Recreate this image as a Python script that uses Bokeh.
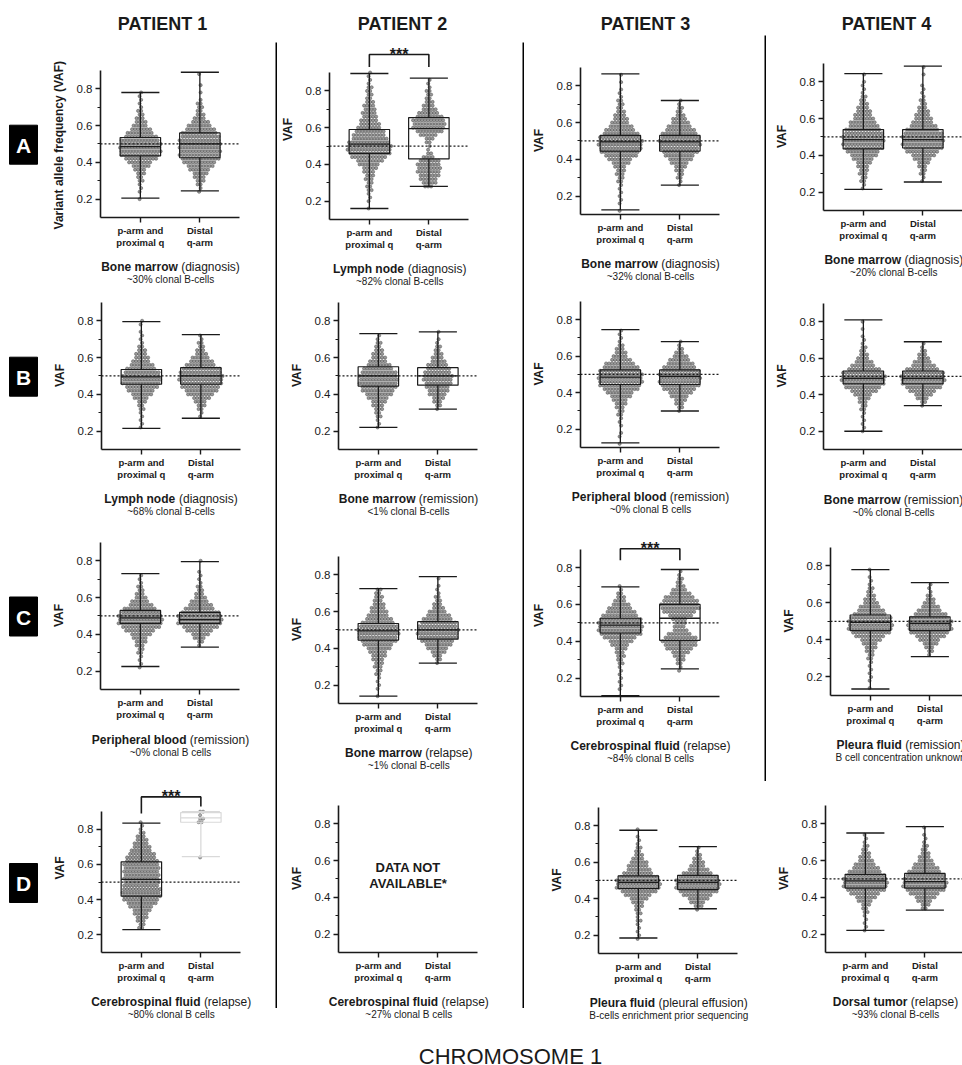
from bokeh.plotting import figure
from bokeh.layouts import row, column
from bokeh.models import Range1d, FixedTicker, Span, ColumnDataSource
from bokeh.core.properties import value
from bokeh.embed import file_html
from bokeh.resources import INLINE

# ------------------------------------------------------------------ data
CATEGORIES = ["p-arm and\nproximal q", "Distal\nq-arm"]
PATIENTS = ["PATIENT 1", "PATIENT 2", "PATIENT 3", "PATIENT 4"]
ROW_LETTERS = ["A", "B", "C", "D"]
Y_TICKS = [0.2, 0.4, 0.6, 0.8]
Y_MINOR = [0.3, 0.5, 0.7]
REFERENCE_VAF = 0.5
BIN_STEP = 0.02
FOOTER = "CHROMOSOME 1"
PANELS = ["A1", "A2", "A3", "A4", "B1", "B2", "B3", "B4",
          "C1", "C2", "C3", "C4", "D1", "D2", "D3", "D4"]
SITES = ["Bone marrow", "Lymph node", "Bone marrow", "Bone marrow",
         "Lymph node", "Bone marrow", "Peripheral blood", "Bone marrow",
         "Peripheral blood", "Bone marrow", "Cerebrospinal fluid", "Pleura fluid",
         "Cerebrospinal fluid", "Cerebrospinal fluid", "Pleura fluid", "Dorsal tumor"]
STATES = ["(diagnosis)", "(diagnosis)", "(diagnosis)", "(diagnosis)",
          "(diagnosis)", "(remission)", "(remission)", "(remission)",
          "(remission)", "(relapse)", "(relapse)", "(remission)",
          "(relapse)", "(relapse)", "(pleural effusion)", "(relapse)"]
NOTES = ["~30% clonal B-cells", "~82% clonal B-cells", "~32% clonal B-cells", "~20% clonal B-cells",
         "~68% clonal B-cells", "<1% clonal B-cells", "~0% clonal B cells", "~0% clonal B-cells",
         "~0% clonal B cells", "~1% clonal B-cells", "~84% clonal B cells", "B cell concentration unknown",
         "~80% clonal B cells", "~27% clonal B cells", "B-cells enrichment prior sequencing", "~93% clonal B-cells"]
SIG_PANELS = ["A2", "C3", "D1"]
SIG_TEXT = ["***", "***", "***"]
SIG_LEVEL = [0.998, 0.903, 0.984]
SIG_LEG_LEFT = [0.93, 0.84, 0.89]
SIG_LEG_RIGHT = [0.93, 0.84, 0.93]
MISSING_TEXT = "DATA NOT\nAVAILABLE*"

# box statistics: [min, q1, median, q3, max]; dot rows: (first row VAF, dots per 0.02 row)
A1_P_BOX = [0.205, 0.435, 0.485, 0.535, 0.78]
A1_P_ROWS = (0.20, [1, 0, 1, 1, 1, 2, 2, 3, 4, 6, 8, 11, 13, 14, 14, 14, 13, 11, 9, 7, 5, 4, 3, 2, 2, 1, 1, 1, 1, 1])
A1_D_BOX = [0.245, 0.425, 0.5, 0.56, 0.89]
A1_D_ROWS = (0.24, [1, 1, 2, 3, 4, 5, 7, 9, 11, 13, 14, 14, 14, 14, 14, 13, 12, 10, 8, 6, 4, 3, 2, 2, 2, 1, 0, 1, 0, 1, 0, 0, 1])
A2_P_BOX = [0.16, 0.46, 0.51, 0.59, 0.895]
A2_P_ROWS = (0.16, [1, 0, 1, 1, 1, 2, 2, 2, 3, 3, 4, 5, 7, 9, 12, 14, 15, 15, 14, 12, 11, 10, 8, 7, 6, 5, 5, 4, 4, 3, 2, 2, 2, 2, 1, 1, 1, 1])
A2_D_BOX = [0.28, 0.43, 0.595, 0.655, 0.87]
A2_D_ROWS = (0.28, [3, 5, 6, 7, 8, 8, 8, 7, 4, 2, 1, 1, 2, 3, 6, 9, 11, 11, 11, 9, 7, 5, 4, 3, 2, 2, 2, 1, 1, 1])
A3_P_BOX = [0.125, 0.445, 0.495, 0.53, 0.865]
A3_P_ROWS = (0.12, [1, 0, 1, 1, 1, 1, 1, 1, 2, 2, 3, 3, 4, 6, 8, 11, 13, 14, 15, 15, 14, 12, 10, 8, 6, 5, 4, 3, 2, 2, 2, 1, 1, 1, 0, 1, 0, 1])
A3_D_BOX = [0.26, 0.445, 0.495, 0.53, 0.72]
A3_D_ROWS = (0.26, [1, 1, 2, 2, 3, 4, 6, 8, 10, 12, 13, 14, 14, 13, 12, 10, 8, 6, 5, 3, 2, 2, 1, 1])
A4_P_BOX = [0.215, 0.435, 0.485, 0.54, 0.845]
A4_P_ROWS = (0.22, [1, 1, 2, 2, 3, 3, 4, 5, 7, 9, 11, 13, 14, 14, 14, 13, 12, 10, 9, 7, 6, 5, 4, 3, 2, 2, 1, 1, 1, 1, 0, 1])
A4_D_BOX = [0.255, 0.44, 0.485, 0.54, 0.885]
A4_D_ROWS = (0.26, [1, 1, 2, 2, 3, 4, 6, 8, 11, 13, 14, 14, 14, 13, 11, 9, 7, 6, 5, 4, 3, 2, 2, 1, 1, 1, 1, 0, 0, 1, 0, 1])
B1_P_BOX = [0.215, 0.455, 0.495, 0.535, 0.795]
B1_P_ROWS = (0.22, [1, 1, 1, 1, 1, 2, 2, 3, 5, 7, 9, 11, 13, 13, 13, 12, 10, 8, 6, 5, 4, 3, 2, 1, 1, 1, 1, 0, 1, 1])
B1_D_BOX = [0.27, 0.455, 0.5, 0.545, 0.725]
B1_D_ROWS = (0.28, [1, 1, 2, 3, 4, 6, 9, 11, 13, 14, 15, 15, 14, 13, 10, 8, 6, 4, 3, 2, 2, 1, 1])
B2_P_BOX = [0.22, 0.445, 0.5, 0.55, 0.73]
B2_P_ROWS = (0.22, [1, 1, 1, 2, 2, 3, 4, 5, 7, 9, 11, 12, 13, 13, 13, 12, 10, 8, 6, 5, 4, 3, 2, 2, 1, 1])
B2_D_BOX = [0.32, 0.45, 0.5, 0.545, 0.74]
B2_D_ROWS = (0.32, [1, 2, 3, 4, 6, 7, 8, 9, 10, 10, 9, 8, 7, 5, 4, 3, 2, 2, 1, 1, 0, 1])
B3_P_BOX = [0.125, 0.445, 0.485, 0.525, 0.745]
B3_P_ROWS = (0.12, [1, 0, 1, 1, 0, 1, 1, 1, 2, 2, 3, 4, 5, 7, 9, 12, 14, 15, 15, 15, 14, 12, 10, 7, 5, 4, 3, 2, 1, 1, 1, 1])
B3_D_BOX = [0.3, 0.445, 0.49, 0.525, 0.68]
B3_D_ROWS = (0.30, [1, 2, 3, 4, 6, 8, 11, 13, 14, 14, 14, 13, 11, 9, 7, 5, 3, 2, 1, 1])
B4_P_BOX = [0.2, 0.46, 0.49, 0.53, 0.81]
B4_P_ROWS = (0.20, [1, 1, 1, 1, 1, 1, 2, 2, 3, 4, 6, 9, 12, 14, 15, 15, 14, 11, 8, 6, 4, 3, 2, 2, 1, 1, 1, 0, 1, 0, 1])
B4_D_BOX = [0.34, 0.46, 0.49, 0.53, 0.69]
B4_D_ROWS = (0.34, [1, 2, 4, 6, 9, 12, 14, 15, 15, 14, 11, 8, 6, 4, 3, 2, 1, 1])
C1_P_BOX = [0.225, 0.46, 0.49, 0.53, 0.73]
C1_P_ROWS = (0.22, [1, 1, 1, 1, 2, 2, 3, 4, 5, 7, 10, 13, 15, 15, 15, 13, 11, 8, 6, 4, 3, 2, 2, 1, 1, 1])
C1_D_BOX = [0.33, 0.46, 0.48, 0.52, 0.795]
C1_D_ROWS = (0.34, [1, 2, 4, 6, 9, 12, 15, 15, 15, 13, 10, 8, 6, 4, 3, 2, 2, 1, 1, 1, 1, 0, 0, 1])
C2_P_BOX = [0.14, 0.445, 0.495, 0.535, 0.725]
C2_P_ROWS = (0.14, [1, 0, 1, 1, 1, 1, 2, 2, 3, 3, 4, 5, 6, 8, 10, 12, 13, 14, 14, 13, 11, 9, 7, 6, 5, 4, 3, 3, 2, 2])
C2_D_BOX = [0.32, 0.45, 0.5, 0.545, 0.79]
C2_D_ROWS = (0.32, [1, 2, 3, 5, 7, 9, 11, 13, 14, 14, 13, 12, 10, 8, 6, 4, 3, 2, 2, 1, 1, 1, 0, 1])
C3_P_BOX = [0.105, 0.445, 0.488, 0.525, 0.695]
C3_P_ROWS = (0.10, [1, 0, 1, 1, 1, 1, 1, 1, 1, 2, 2, 3, 3, 4, 6, 8, 11, 14, 15, 15, 15, 14, 12, 10, 8, 6, 4, 3, 2, 1, 1])
C3_D_BOX = [0.25, 0.405, 0.525, 0.6, 0.79]
C3_D_ROWS = (0.24, [1, 1, 2, 3, 4, 6, 9, 11, 12, 11, 8, 5, 4, 4, 5, 8, 11, 13, 13, 12, 10, 7, 5, 3, 2, 2, 1, 1])
C4_P_BOX = [0.135, 0.45, 0.495, 0.535, 0.78]
C4_P_ROWS = (0.14, [1, 0, 1, 1, 1, 1, 1, 1, 2, 2, 3, 4, 5, 7, 10, 13, 15, 15, 15, 14, 11, 9, 7, 5, 4, 3, 2, 2, 1, 1, 1, 0, 1])
C4_D_BOX = [0.31, 0.45, 0.49, 0.525, 0.71]
C4_D_ROWS = (0.32, [1, 2, 3, 5, 7, 10, 13, 15, 15, 15, 13, 11, 8, 6, 4, 3, 2, 1, 1, 1])
D1_P_BOX = [0.23, 0.42, 0.515, 0.615, 0.835]
D1_P_ROWS = (0.24, [2, 2, 3, 4, 5, 6, 8, 10, 12, 13, 13, 13, 12, 12, 12, 12, 12, 12, 12, 11, 10, 9, 7, 6, 5, 4, 3, 2, 1, 1, 1])
D1_D_BOX = [0.645, 0.84, 0.865, 0.895, 0.9]
D1_D_ROWS = (0.64, [1, 0, 0, 0, 0, 0, 0, 0, 0, 0, 2, 2, 1, 2])
D3_P_BOX = [0.185, 0.455, 0.49, 0.525, 0.775]
D3_P_ROWS = (0.18, [1, 1, 1, 1, 1, 2, 1, 2, 2, 3, 4, 6, 9, 12, 15, 15, 15, 13, 10, 8, 7, 6, 4, 3, 2, 2, 1, 1, 1, 0, 1])
D3_D_BOX = [0.345, 0.45, 0.49, 0.528, 0.685]
D3_D_ROWS = (0.34, [1, 3, 5, 7, 10, 13, 15, 15, 15, 13, 10, 7, 5, 4, 3, 2, 1, 1])
D4_P_BOX = [0.22, 0.45, 0.49, 0.525, 0.75]
D4_P_ROWS = (0.22, [1, 1, 1, 1, 1, 2, 2, 3, 5, 7, 10, 13, 15, 15, 15, 13, 11, 9, 7, 5, 4, 3, 2, 2, 1, 1, 1])
D4_D_BOX = [0.33, 0.45, 0.485, 0.53, 0.785]
D4_D_ROWS = (0.34, [2, 3, 5, 7, 10, 13, 15, 15, 14, 13, 11, 9, 7, 5, 4, 3, 2, 2, 1, 1, 1, 0, 1])

GROUPS = {
    "A1": [(A1_P_BOX, A1_P_ROWS), (A1_D_BOX, A1_D_ROWS)],
    "A2": [(A2_P_BOX, A2_P_ROWS), (A2_D_BOX, A2_D_ROWS)],
    "A3": [(A3_P_BOX, A3_P_ROWS), (A3_D_BOX, A3_D_ROWS)],
    "A4": [(A4_P_BOX, A4_P_ROWS), (A4_D_BOX, A4_D_ROWS)],
    "B1": [(B1_P_BOX, B1_P_ROWS), (B1_D_BOX, B1_D_ROWS)],
    "B2": [(B2_P_BOX, B2_P_ROWS), (B2_D_BOX, B2_D_ROWS)],
    "B3": [(B3_P_BOX, B3_P_ROWS), (B3_D_BOX, B3_D_ROWS)],
    "B4": [(B4_P_BOX, B4_P_ROWS), (B4_D_BOX, B4_D_ROWS)],
    "C1": [(C1_P_BOX, C1_P_ROWS), (C1_D_BOX, C1_D_ROWS)],
    "C2": [(C2_P_BOX, C2_P_ROWS), (C2_D_BOX, C2_D_ROWS)],
    "C3": [(C3_P_BOX, C3_P_ROWS), (C3_D_BOX, C3_D_ROWS)],
    "C4": [(C4_P_BOX, C4_P_ROWS), (C4_D_BOX, C4_D_ROWS)],
    "D1": [(D1_P_BOX, D1_P_ROWS), (D1_D_BOX, D1_D_ROWS)],
    "D2": [],
    "D3": [(D3_P_BOX, D3_P_ROWS), (D3_D_BOX, D3_D_ROWS)],
    "D4": [(D4_P_BOX, D4_P_ROWS), (D4_D_BOX, D4_D_ROWS)],
}
FADED_GROUPS = [("D1", 1)]

# ------------------------------------------------------------------ layout / style
FONT = "Liberation Sans"
INK = "#1a1a1a"
PAGE_W, MAIN_H, FOOT_H = 962, 1025, 40
LETTER_W = 45
COL_X0 = [45, 277, 524, 766]
COL_W = [230, 245, 240, 196]
PX_PER_X = 59.5
X_START = 0.33
FRAME_W = 139
BOX_HALF = 0.34
CAP_HALF = 0.32
DOT_DX = 3.0 / PX_PER_X
HEADER_X = [162, 402, 645, 886]
HEADER_Y = 23.5
LETTER_X = 23
AXIS_BAND = 32
HLINE_Y = 779
FOOT_BASELINE = 31
# panel: (frame_left, y at VAF 0.9, y at VAF 0.1) in page pixels
GEOM = {
    "A1": (100, 70.2, 218.2), "B1": (100.5, 302.2, 450.2), "C1": (100, 541.5, 690.5), "D1": (100.7, 811.6, 953.4),
    "A2": (329.3, 72.2, 220.2), "B2": (338, 302, 450), "C2": (338.3, 556, 703.5), "D2": (338.3, 804.8, 952.8),
    "A3": (580, 67.2, 214.7), "B3": (580, 301, 448.4), "C3": (580, 548.8, 696.8), "D3": (598.3, 807.3, 954.4),
    "A4": (823.3, 63.2, 210.8), "B4": (823, 302.5, 450.5), "C4": (830, 547.4, 695.8), "D4": (825, 804.8, 952.8),
}
YTOP = {"A2": 1.08, "C3": 0.98, "D1": 1.06}
EXTRA_TOP = {"A1": 20}

REG_W = {' ': 278, '(': 333, ')': 333, 'a': 556, 'b': 556, 'c': 500, 'd': 556, 'e': 556, 'f': 278,
         'g': 556, 'h': 556, 'i': 222, 'l': 222, 'm': 833, 'n': 556, 'o': 556, 'p': 556, 'r': 333,
         's': 500, 't': 278, 'u': 556, 'v': 500, 'w': 722, 'y': 500}
BOLD_W = {' ': 278, 'B': 722, 'C': 722, 'D': 722, 'L': 611, 'P': 667, 'a': 556, 'b': 611, 'c': 556,
          'd': 611, 'e': 556, 'f': 333, 'h': 611, 'i': 278, 'l': 278, 'm': 889, 'n': 611, 'o': 611,
          'p': 611, 'r': 389, 's': 556, 't': 333, 'u': 611, 'w': 778, 'y': 556}


def text_w(s, bold, size):
    tbl = BOLD_W if bold else REG_W
    return sum(tbl.get(c, 556) for c in s) * size / 1000.0


def swarm(cat, rows):
    start, counts = rows
    xs, ys = [], []
    for k, n in enumerate(counts):
        v = start + BIN_STEP * k
        shift = (0.25 if k % 2 else -0.25) * DOT_DX
        for i in range(n):
            xs.append(cat + (i - (n - 1) / 2.0) * DOT_DX + shift)
            ys.append(v)
    return xs, ys


def put_text(f, x, y, text, size, bold=False, align="center", baseline="middle", color=INK, lh=1.2):
    f.text(x=[x], y=[y], text=[text], text_font=value(FONT), text_font_size=value(size),
           text_font_style="bold" if bold else "normal", text_align=align,
           text_baseline=baseline, text_color=color, text_line_height=lh)


def blank(w, h, color="white"):
    f = figure(width=w, height=h, toolbar_location=None, output_backend="svg", min_border=0,
               x_axis_type=None, y_axis_type=None, outline_line_color=None,
               x_range=Range1d(0, w), y_range=Range1d(h, 0), frame_align=False,
               background_fill_color=color, border_fill_color=color)
    return f


def frame_top(key):
    fl, y09, y01 = GEOM[key]
    scale = (y01 - y09) / 0.8
    return int(round(y09 - (YTOP.get(key, 0.905) - 0.9) * scale))


def fig_top(key):
    return frame_top(key) - EXTRA_TOP.get(key, 0)


def make_panel(key, c):
    fl, y09, y01 = GEOM[key]
    ytop = YTOP.get(key, 0.905)
    ft = frame_top(key)
    extra = EXTRA_TOP.get(key, 0)
    fb = int(round(y01))
    w = COL_W[c]
    bl = int(round(fl - COL_X0[c]))
    fw = min(FRAME_W, w - bl)
    br = w - bl - fw
    p = figure(width=w, height=fb + AXIS_BAND - ft + extra, toolbar_location=None, output_backend="svg",
               x_range=Range1d(X_START, X_START + fw / PX_PER_X), y_range=Range1d(0.1, ytop),
               min_border_left=bl, min_border_right=br, min_border_top=extra,
               min_border_bottom=AXIS_BAND, outline_line_color=None, frame_align=False)
    p.xgrid.visible = False
    p.ygrid.visible = False
    for ax in (p.xaxis[0], p.yaxis[0]):
        ax.axis_line_color = INK
        ax.axis_line_width = 1.6
        ax.major_tick_line_color = INK
        ax.major_tick_line_width = 1.4
        ax.major_tick_in = 0
        ax.major_tick_out = 5
        ax.minor_tick_in = 0
        ax.minor_tick_out = 3
        ax.minor_tick_line_color = INK
        ax.minor_tick_line_width = 1.2
        ax.major_label_text_font = FONT
        ax.major_label_text_color = INK
    ya = p.yaxis[0]
    ya.ticker = FixedTicker(ticks=Y_TICKS, minor_ticks=Y_MINOR)
    ya.bounds = (0.1, 0.9)
    ya.major_label_text_font_size = "11.5px"
    ya.major_label_standoff = 3
    ya.axis_label = "Variant allele frequency  (VAF)" if key == "A1" else "VAF"
    ya.axis_label_text_font = FONT
    ya.axis_label_text_font_style = "bold"
    ya.axis_label_text_font_size = "12px"
    ya.axis_label_text_color = INK
    ya.axis_label_standoff = 8
    xa = p.xaxis[0]
    xa.ticker = FixedTicker(ticks=[1, 2], minor_ticks=[])
    xa.major_label_overrides = {1: CATEGORIES[0], 2: CATEGORIES[1]}
    xa.major_label_text_font_style = "bold"
    xa.major_label_text_font_size = "9.5px"
    xa.major_label_text_line_height = 1.1
    xa.major_label_standoff = 2

    groups = GROUPS[key]
    for gi, (box, rows) in enumerate(groups):
        cat = gi + 1
        faded = (key, gi) in FADED_GROUPS
        xs, ys = swarm(cat, rows)
        p.scatter(xs, ys, size=3.2, marker="circle", fill_color="#939393", line_color="#454545",
                  line_width=0.5, alpha=0.75 if faded else 0.95)
        mn, q1, md, q3, mx = box
        lc = "#d9d9d9" if faded else INK
        p.quad(left=[cat - BOX_HALF], right=[cat + BOX_HALF], bottom=[q1], top=[q3],
               fill_color=None, line_color=lc, line_width=1.2)
        seg = ColumnDataSource(dict(
            x0=[cat - BOX_HALF, cat, cat, cat - CAP_HALF, cat - CAP_HALF],
            y0=[md, mn, q3, mn, mx],
            x1=[cat + BOX_HALF, cat, cat, cat + CAP_HALF, cat + CAP_HALF],
            y1=[md, q1, mx, mn, mx]))
        p.segment("x0", "y0", "x1", "y1", source=seg, line_color=lc, line_width=1.3)
    if groups:
        p.add_layout(Span(location=REFERENCE_VAF, dimension="width", line_color=INK,
                          line_width=1.2, line_dash="2 2"))
    else:
        put_text(p, 1.5, 0.52, MISSING_TEXT, "13px", bold=True, lh=1.1)

    if key in SIG_PANELS:
        j = SIG_PANELS.index(key)
        p.line([1, 1, 2, 2], [SIG_LEG_LEFT[j], SIG_LEVEL[j], SIG_LEVEL[j], SIG_LEG_RIGHT[j]],
               line_color=INK, line_width=1.6)
        put_text(p, 1.5, SIG_LEVEL[j], SIG_TEXT[j], "16px", bold=True, baseline="alphabetic")
    return p


def caption(key, c, top, bottom):
    idx = PANELS.index(key)
    fl, y09, y01 = GEOM[key]
    f = blank(COL_W[c], bottom - top)
    cx = fl - COL_X0[c] + 70
    y1 = y01 + 48.5 - top
    y2 = y01 + 61 - top
    site, state = SITES[idx], STATES[idx]
    w_b = text_w(site, True, 12)
    w_s = text_w(" ", False, 12)
    w_n = text_w(state, False, 12)
    left = cx - (w_b + w_s + w_n) / 2.0
    put_text(f, left, y1, site, "12px", bold=True, align="left")
    put_text(f, left + w_b + w_s, y1, state, "12px", align="left")
    put_text(f, cx, y2, NOTES[idx], "10px")
    return f


def build_column(c):
    keys = [r + str(c + 1) for r in ROW_LETTERS]
    items = []
    prev_bottom = None
    for r, key in enumerate(keys):
        ft = fig_top(key)
        if r == 0:
            hdr = blank(COL_W[c], ft)
            put_text(hdr, HEADER_X[c] - COL_X0[c], HEADER_Y, PATIENTS[c], "18px", bold=True)
            items.append(hdr)
        elif c == 2 and r == 3:
            items.append(caption(keys[r - 1], c, prev_bottom, HLINE_Y))
            items.append(blank(COL_W[c], 2, "black"))
            items.append(blank(COL_W[c], ft - HLINE_Y - 2))
        else:
            items.append(caption(keys[r - 1], c, prev_bottom, ft))
        items.append(make_panel(key, c))
        prev_bottom = int(round(GEOM[key][2])) + AXIS_BAND
    items.append(caption(keys[-1], c, prev_bottom, MAIN_H))
    return column(*items)


letters = blank(LETTER_W, MAIN_H)
for r, L in enumerate(ROW_LETTERS):
    fl, y09, y01 = GEOM[L + "1"]
    cy = (y09 + y01) / 2.0
    letters.rect(x=[LETTER_X], y=[cy], width=[28], height=[39], fill_color="black", line_color="black")
    put_text(letters, LETTER_X, cy + 0.5, L, "21px", bold=True, color="white")

cols = [build_column(c) for c in range(4)]
sep1 = column(blank(2, 42), blank(2, 966, "black"), blank(2, 17))
sep2 = column(blank(2, 42), blank(2, 966, "black"), blank(2, 17))
sep3 = column(blank(2, 35), blank(2, 746, "black"), blank(2, 244))

footer = blank(PAGE_W, FOOT_H)
put_text(footer, 510, FOOT_BASELINE, FOOTER, "22px", baseline="alphabetic")

layout = column(row(letters, cols[0], sep1, cols[1], sep2, cols[2], sep3, cols[3]), footer)

with open("out.html", "w") as fh_out:
    fh_out.write(file_html(layout, INLINE, "Chromosome 1 VAF"))
